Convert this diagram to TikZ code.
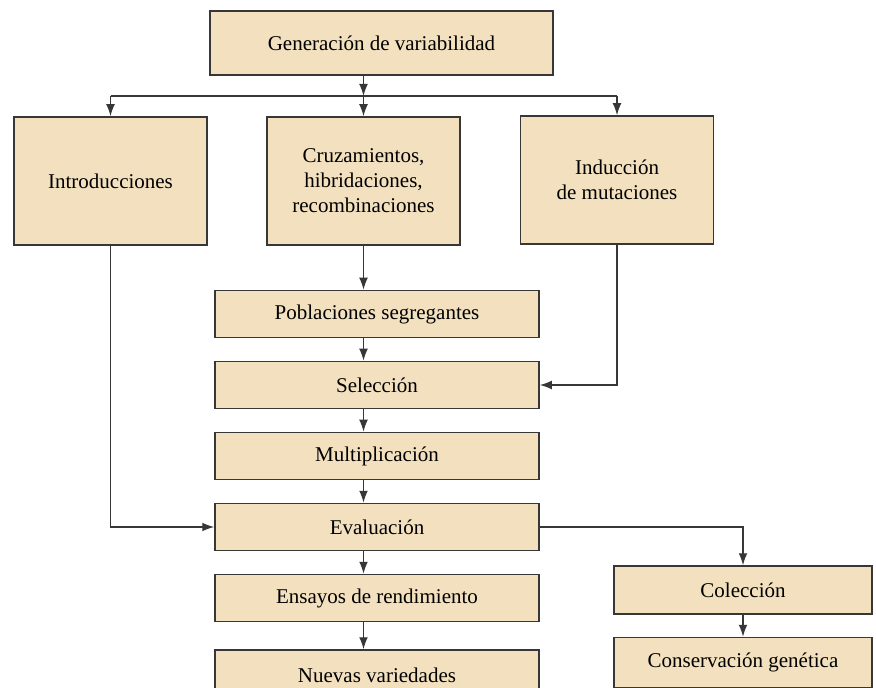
\documentclass[tikz,border=0pt]{standalone}
\usepackage{fontspec}
\setmainfont{Liberation Serif}
\usetikzlibrary{arrows.meta, positioning}
\definecolor{boxfill}{RGB}{242,224,190}
\definecolor{boxline}{RGB}{55,55,55}

\begin{document}
\begin{tikzpicture}[x=0.5pt, y=-0.5pt,
  box/.style={rectangle, draw=boxline, fill=boxfill, line width=0.75pt,
              align=center, font=\fontsize{10.5}{12.5}\selectfont,
              text=black, inner sep=2pt},
  tallbox/.style={box, minimum width=96.5pt, minimum height=64pt},
  widebox/.style={box, minimum width=162pt, minimum height=23.5pt},
  sidebox/.style={box, minimum width=129pt, minimum height=24pt},
  arrow/.style={-{Latex[length=6pt, width=4.4pt]}, line width=0.7pt, boxline}
]
\useasboundingbox (0,0) rectangle (876,688);

\node[box, minimum width=171.5pt, minimum height=32pt] (gen) at (381.5,43)
  {Generación de variabilidad};
\node[tallbox] (intro) at (110.5,181) {Introducciones};
\node[tallbox] (cruz) at (363.5,181)
  {Cruzamientos,\\hibridaciones,\\recombinaciones};
\node[tallbox] (indu) at (617,180) {Inducción\\de mutaciones};

\node[widebox] (pobl) at (377,314) {Poblaciones segregantes};
\node[widebox, below=11.25pt of pobl] (sel) {Selección};
\node[widebox, below=11.25pt of sel] (mult) {Multiplicación};
\node[widebox, below=11.25pt of mult] (eval) {Evaluación};
\node[widebox, below=11.25pt of eval] (ens) {Ensayos de rendimiento};
\node[widebox, minimum height=25pt, below=13.5pt of ens] (nuev) {Nuevas variedades};

\node[sidebox] (col) at (743,590) {Colección};
\node[sidebox, minimum height=25pt, below=11pt of col] (cons) {Conservación genética};

% reparto desde la generacion
\coordinate (hub) at (363.5,96);
\draw[arrow] (gen.south -| cruz.north) -- (hub);
\draw[line width=0.7pt, boxline] (intro.north |- hub) -- (indu.north |- hub);
\draw[arrow] (intro.north |- hub) -- (intro.north);
\draw[arrow] (hub) -- (cruz.north);
\draw[arrow] (indu.north |- hub) -- (indu.north);

% columna central
\draw[arrow] (cruz.south) -- (pobl.north -| cruz);
\draw[arrow] (pobl.south -| cruz) -- (sel.north -| cruz);
\draw[arrow] (sel.south -| cruz) -- (mult.north -| cruz);
\draw[arrow] (mult.south -| cruz) -- (eval.north -| cruz);
\draw[arrow] (eval.south -| cruz) -- (ens.north -| cruz);
\draw[arrow] (ens.south -| cruz) -- (nuev.north -| cruz);

% ramas laterales
\draw[arrow] (indu.south) |- (sel.east);
\draw[arrow] (intro.south) |- (eval.west);
\draw[arrow] (eval.east) -| (col.north);
\draw[arrow] (col.south) -- (cons.north);

\end{tikzpicture}
\end{document}
